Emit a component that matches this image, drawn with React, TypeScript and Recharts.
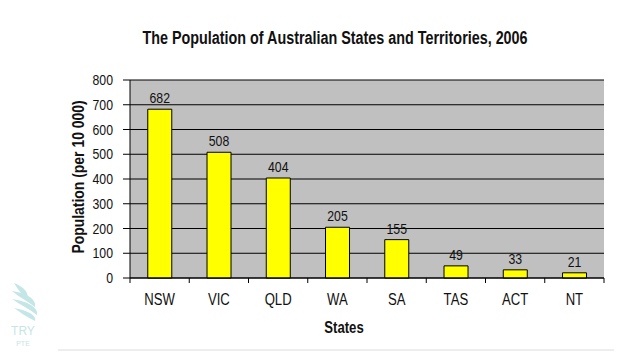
import React from 'react';
import { BarChart, Bar, XAxis, YAxis, CartesianGrid, LabelList, Label } from 'recharts';

const states = ['NSW', 'VIC', 'QLD', 'WA', 'SA', 'TAS', 'ACT', 'NT'];
const population = [682, 508, 404, 205, 155, 49, 33, 21];
const yTicks = [0, 100, 200, 300, 400, 500, 600, 700, 800];

const data = states.map((state, i) => ({ state, population: population[i] }));

const FONT = '"Liberation Sans", Arial, sans-serif';
const NARROW = 0.82;
const W = 614;
const H = 344;
const MARGIN = { top: 72, right: 18, left: 0, bottom: 0 };
const Y_AXIS_W = 122;
const X_AXIS_H = 74;
const PLOT_W = W - MARGIN.left - MARGIN.right - Y_AXIS_W;
const BAND = PLOT_W / states.length;

// Liberation Sans squeezed horizontally, to look like Arial Narrow
const NarrowText = ({ x, y, anchor = 'middle', size = 15, bold = false, rotate = 0, children }: any) => (
  <g transform={`translate(${x}, ${y}) rotate(${rotate}) scale(${NARROW}, 1)`}>
    <text
      x={0}
      y={0}
      textAnchor={anchor}
      fontSize={size}
      fontWeight={bold ? 'bold' : 'normal'}
      fontFamily={FONT}
      fill="#111"
    >
      {children}
    </text>
  </g>
);

const CategoryTick = (props: any) => {
  const { x, y, payload, index } = props;
  const left = x - BAND / 2;
  return (
    <g>
      <line x1={left} y1={y} x2={left} y2={y + 5} stroke="#000" />
      {index === states.length - 1 && (
        <line x1={left + BAND} y1={y} x2={left + BAND} y2={y + 5} stroke="#000" />
      )}
      <NarrowText x={x} y={y + 27} size={16}>
        {payload.value}
      </NarrowText>
    </g>
  );
};

const ValueTick = (props: any) => {
  const { x, y, payload } = props;
  return (
    <NarrowText x={x} y={y + 5} anchor="end" size={15}>
      {payload.value}
    </NarrowText>
  );
};

const BarValue = (props: any) => {
  const { x, y, width, value } = props;
  return (
    <NarrowText x={x + width / 2} y={y - 6} size={15}>
      {value}
    </NarrowText>
  );
};

const YTitle = (props: any) => {
  const { viewBox } = props;
  return (
    <NarrowText x={viewBox.x + 76} y={viewBox.y + viewBox.height / 2 - 2} size={17} bold rotate={-90}>
      Population (per 10 000)
    </NarrowText>
  );
};

const XTitle = (props: any) => {
  const { viewBox } = props;
  return (
    <NarrowText x={336} y={viewBox.y + 55} size={16} bold>
      States
    </NarrowText>
  );
};

const Watermark = () => (
  <svg width={622} height={352} style={{ position: 'absolute', left: -8, top: -8, pointerEvents: 'none' }}>
    <g fill="#c4e6e6">
      <path d="M14 283 C24 287 30 293 27 301 C23 295 18 290 14 283 Z" />
      <path d="M12 291 C26 293 37 299 35 307 C27 301 19 297 12 291 Z" />
      <path d="M12 299 C26 301 39 307 37 315 C29 309 21 305 12 299 Z" />
      <path d="M14 308 C26 310 37 315 35 321 C27 317 21 313 14 308 Z" />
    </g>
    <text x={23} y={335} textAnchor="middle" fontSize={12} fontFamily={FONT} fill="#c4e6e6">
      TRY
    </text>
    <text x={23} y={346} textAnchor="middle" fontSize={7} fontFamily={FONT} fill="#c4e6e6">
      PTE
    </text>
    <line x1={58} y1={350} x2={622} y2={350} stroke="#dcdcdc" />
  </svg>
);

export default function App() {
  return (
    <div style={{ position: 'relative', width: W, height: H }}>
      <div
        style={{
          position: 'absolute',
          left: 0,
          top: 20,
          width: 654,
          textAlign: 'center',
          fontFamily: FONT,
          fontWeight: 'bold',
          fontSize: 17.5,
          color: '#111',
          transform: `scaleX(${NARROW})`,
          transformOrigin: '327px 0',
          whiteSpace: 'nowrap',
        }}
      >
        The Population of Australian States and Territories, 2006
      </div>
      <BarChart width={W} height={H} data={data} margin={MARGIN} barCategoryGap="30%">
        <CartesianGrid vertical={false} stroke="#000" fill="#c0c0c0" fillOpacity={1} />
        <XAxis
          dataKey="state"
          height={X_AXIS_H}
          axisLine={{ stroke: '#000' }}
          tickLine={false}
          tickSize={0}
          tickMargin={0}
          tick={<CategoryTick />}
          interval={0}
        >
          <Label content={<XTitle />} />
        </XAxis>
        <XAxis xAxisId="top" orientation="top" dataKey="state" height={0} tick={false} tickLine={false} axisLine={{ stroke: '#8a8a8a' }} />
        <YAxis
          width={Y_AXIS_W}
          domain={[0, 800]}
          ticks={yTicks}
          interval={0}
          tickSize={7}
          tickMargin={10}
          axisLine={{ stroke: '#000' }}
          tickLine={{ stroke: '#000' }}
          tick={<ValueTick />}
        >
          <Label content={<YTitle />} />
        </YAxis>
        <YAxis yAxisId="right" orientation="right" width={0} domain={[0, 800]} tick={false} tickLine={false} axisLine={{ stroke: '#8a8a8a' }} />
        <Bar dataKey="population" fill="#ffff00" stroke="#000" strokeWidth={1} isAnimationActive={false}>
          <LabelList dataKey="population" content={<BarValue />} />
        </Bar>
      </BarChart>
      <Watermark />
    </div>
  );
}
